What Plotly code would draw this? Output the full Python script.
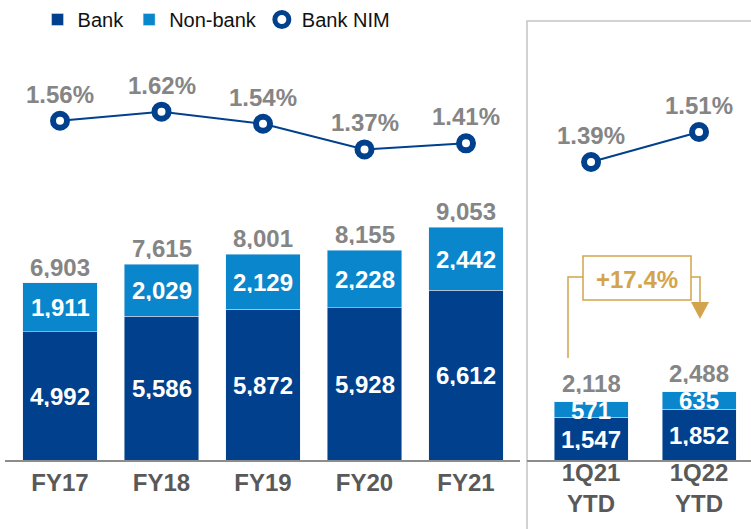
import plotly.graph_objects as go

# ---------------- data ----------------
fy_labels = ["FY17", "FY18", "FY19", "FY20", "FY21"]
fy_bank = [4992, 5586, 5872, 5928, 6612]
fy_nonbank = [1911, 2029, 2129, 2228, 2442]
fy_total = [6903, 7615, 8001, 8155, 9053]
fy_nim = [1.56, 1.62, 1.54, 1.37, 1.41]

q_labels = ["1Q21<br>YTD", "1Q22<br>YTD"]
q_bank = [1547, 1852]
q_nonbank = [571, 635]
q_total = [2118, 2488]
q_nim = [1.39, 1.51]

growth_label = "+17.4%"

# ---------------- styles ----------------
DARK = "#00408C"
LIGHT = "#0A86CC"
GREY = "#858585"
CAT = "#595959"
GOLD = "#D4A44C"
FONT = "Liberation Sans, Arial, sans-serif"
FS = 24
W, H = 751, 529


def px(x):
    return x / W


def py(y):
    return 1 - y / H


fig = go.Figure()

# left panel bars
fig.add_trace(go.Bar(x=fy_labels, y=fy_bank, name="Bank", marker_color=DARK,
                     width=0.73, xaxis="x", yaxis="y", legendgroup="bank",
                     hoverinfo="skip"))
fig.add_trace(go.Bar(x=fy_labels, y=fy_nonbank, name="Non-bank", marker_color=LIGHT,
                     width=0.73, xaxis="x", yaxis="y", legendgroup="nonbank",
                     hoverinfo="skip"))
# right panel bars
fig.add_trace(go.Bar(x=q_labels, y=q_bank, name="Bank", marker_color=DARK,
                     width=0.685, xaxis="x2", yaxis="y3", legendgroup="bank",
                     showlegend=False, hoverinfo="skip"))
fig.add_trace(go.Bar(x=q_labels, y=q_nonbank, name="Non-bank", marker_color=LIGHT,
                     width=0.685, xaxis="x2", yaxis="y3", legendgroup="nonbank",
                     showlegend=False, hoverinfo="skip"))

# NIM lines
fig.add_trace(go.Scatter(x=fy_labels, y=fy_nim, mode="lines",
                         line=dict(color=DARK, width=2), xaxis="x", yaxis="y2",
                         showlegend=False, hoverinfo="skip"))
fig.add_trace(go.Scatter(x=q_labels, y=q_nim, mode="lines",
                         line=dict(color=DARK, width=2), xaxis="x2", yaxis="y4",
                         showlegend=False, hoverinfo="skip"))
mk = dict(symbol="circle", size=14, color="white", line=dict(color=DARK, width=6))
fig.add_trace(go.Scatter(x=fy_labels, y=fy_nim, mode="markers", marker=mk,
                         name="Bank NIM", xaxis="x", yaxis="y2",
                         legendgroup="nim", hoverinfo="skip"))
fig.add_trace(go.Scatter(x=q_labels, y=q_nim, mode="markers", marker=mk,
                         name="Bank NIM", xaxis="x2", yaxis="y4",
                         legendgroup="nim", showlegend=False, hoverinfo="skip"))

annotations = []


def label(text, x, y, xref, yref, color, yshift=0):
    annotations.append(dict(text=f"<b>{text}</b>", x=x, y=y, xref=xref, yref=yref,
                            showarrow=False, yshift=yshift, yanchor="middle",
                            xanchor="center", height=22, borderpad=0,
                            font=dict(family=FONT, size=FS, color=color)))


for cats, bank, nonbank, total, nim, xr, yr, yn, tshift in [
    (fy_labels, fy_bank, fy_nonbank, fy_total, fy_nim, "x", "y", "y2", 16),
    (q_labels, q_bank, q_nonbank, q_total, q_nim, "x2", "y3", "y4", 19),
]:
    for c, b, n, t, m in zip(cats, bank, nonbank, total, nim):
        label(f"{b:,}", c, b / 2, xr, yr, "white")
        label(f"{n:,}", c, b + n / 2, xr, yr, "white")
        label(f"{t:,}", c, t, xr, yr, GREY, yshift=tshift)
        label(f"{m:.2f}%", c, m, xr, yn, GREY, yshift=27)

# growth annotation text
annotations.append(dict(text=f"<b>{growth_label}</b>", x=px(637), y=py(279),
                        xref="paper", yref="paper", showarrow=False,
                        xanchor="center", yanchor="middle",
                        font=dict(family=FONT, size=FS, color=GOLD)))

shapes = [
    # right panel frame
    dict(type="rect", xref="paper", yref="paper", x0=px(527), y0=-0.05,
         x1=1.05, y1=py(21), line=dict(color="#C4C4C4", width=1.5), layer="below"),
    # growth callout
    dict(type="path", xref="paper", yref="paper",
         path=f"M{px(568)},{py(358)} L{px(568)},{py(277)} L{px(583)},{py(277)}",
         line=dict(color=GOLD, width=1.5)),
    dict(type="rect", xref="paper", yref="paper", x0=px(583), y0=py(300),
         x1=px(691), y1=py(256), line=dict(color=GOLD, width=1.5)),
    dict(type="path", xref="paper", yref="paper",
         path=f"M{px(691)},{py(277)} L{px(700)},{py(277)} L{px(700)},{py(303)}",
         line=dict(color=GOLD, width=1.5)),
    dict(type="path", xref="paper", yref="paper",
         path=f"M{px(691)},{py(302)} L{px(709)},{py(302)} L{px(700)},{py(319)} Z",
         fillcolor=GOLD, line=dict(color=GOLD, width=0)),
]

ydom = [1 - 460 / H, 1]
tickfont = dict(family=FONT, size=FS, color=CAT, weight="bold")

fig.update_layout(
    width=W, height=H,
    margin=dict(l=0, r=0, t=0, b=0),
    paper_bgcolor="white", plot_bgcolor="rgba(0,0,0,0)",
    barmode="stack",
    showlegend=True,
    legend=dict(orientation="h", x=0.05, y=1.0, xanchor="left", yanchor="top",
                font=dict(family=FONT, size=20, color="#111111"),
                bgcolor="rgba(0,0,0,0)", traceorder="normal"),
    xaxis=dict(domain=[px(5), px(520)], range=[-0.542, 4.532], type="category",
               showline=True, linecolor="#8C8C8C", linewidth=2, ticks="",
               tickfont=tickfont, showgrid=False, zeroline=False,
               ticklabelstandoff=0, fixedrange=True),
    yaxis=dict(domain=ydom, range=[0, 17900], visible=False, fixedrange=True),
    yaxis2=dict(domain=ydom, range=[-0.688, 2.360], overlaying="y", visible=False),
    xaxis2=dict(domain=[px(527), 1], range=[-0.593, 1.481], type="category",
                anchor="y3", showline=True, linecolor="#8C8C8C", linewidth=2,
                ticks="", tickfont=tickfont, showgrid=False, zeroline=False,
                ticklabelstandoff=-10, fixedrange=True),
    yaxis3=dict(domain=ydom, range=[0, 16727], anchor="x2", visible=False),
    yaxis4=dict(domain=ydom, range=[0.198, 2.038], anchor="x2", overlaying="y3",
                visible=False),
    annotations=annotations,
    shapes=shapes,
)

fig.write_html("out.html", config={"displayModeBar": False},
               post_script="document.body.style.margin='0px';")
